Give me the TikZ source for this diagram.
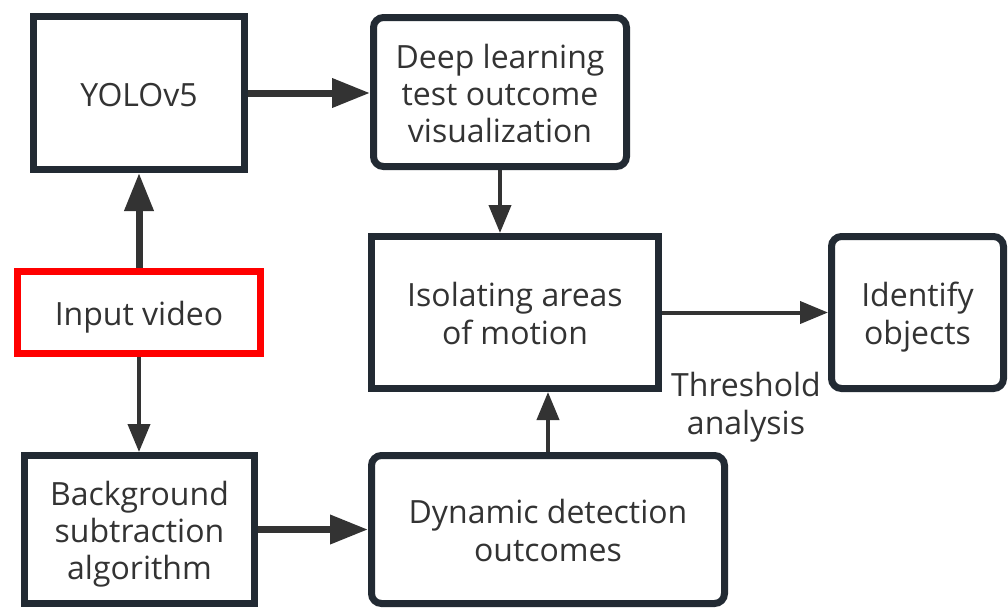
\documentclass[tikz,border=0pt]{standalone}
\usepackage{fontspec}
\setmainfont{Open Sans}
\usetikzlibrary{arrows.meta}
\definecolor{bord}{HTML}{222A33}
\definecolor{txt}{HTML}{333333}
\definecolor{redb}{HTML}{FF0000}
\newcommand\ts{\rule{0pt}{17pt}}
\newcommand\bs{\rule[-4pt]{0pt}{4pt}}
\begin{document}
\begin{tikzpicture}[x=0.5pt,y=-0.5pt,
 lbl/.style={text=txt, align=center, inner sep=0pt, font=\fontsize{16pt}{19pt}\selectfont},
 box/.style={lbl, draw=bord, line width=3.5pt, fill=white},
 rbox/.style={box, rounded corners=5pt},
 thickarrow/.style={draw=txt, line width=3.5pt, -{Triangle[length=19pt,width=14pt]}},
 thinarrow/.style={draw=txt, line width=2pt, -{Triangle[length=14pt,width=11pt]}}]
\useasboundingbox (0,0) rectangle (1008,607);
\node[box, minimum width=105.5pt, minimum height=76.5pt] (yolo) at (139,93) {\ts YOLOv5\bs};
\node[rbox, minimum width=126.5pt, minimum height=74.5pt, font=\fontsize{16pt}{18.5pt}\selectfont] (deep) at (500,92) {\ts Deep learning\\test outcome\\visualization\bs};
\node[box, minimum width=143.5pt, minimum height=76pt] (iso) at (515,312.5) {\ts Isolating areas\\of motion\bs};
\node[rbox, minimum width=86pt, minimum height=76pt] (ident) at (917.5,312.5) {\ts Identify\\objects\bs};
\node[box, draw=redb, minimum width=121.5pt, minimum height=41pt] (input) at (139,312.5) {\ts Input video\bs};
\node[box, minimum width=115pt, minimum height=74pt, font=\fontsize{16pt}{18.5pt}\selectfont] (bg) at (139.5,529.5) {\ts Background\\subtraction\\algorithm\bs};
\node[rbox, minimum width=176.5pt, minimum height=74pt] (dyn) at (548,529.5) {\ts Dynamic detection\\outcomes\bs};
\node[lbl] (thr) at (746,402) {\ts Threshold\\analysis\bs};
\draw[thickarrow] (yolo.east) -- (yolo.east -| deep.west);
\draw[thickarrow] (input.north) -- (yolo.south);
\draw[thinarrow] (input.south) -- (input.south |- bg.north);
\draw[thinarrow] (deep.south) -- (deep.south |- iso.north);
\draw[thickarrow] (bg.east) -- (bg.east -| dyn.west);
\draw[thinarrow] (dyn.north) -- (dyn.north |- iso.south);
\draw[thinarrow] (iso.east) -- (ident.west);
\end{tikzpicture}
\end{document}
